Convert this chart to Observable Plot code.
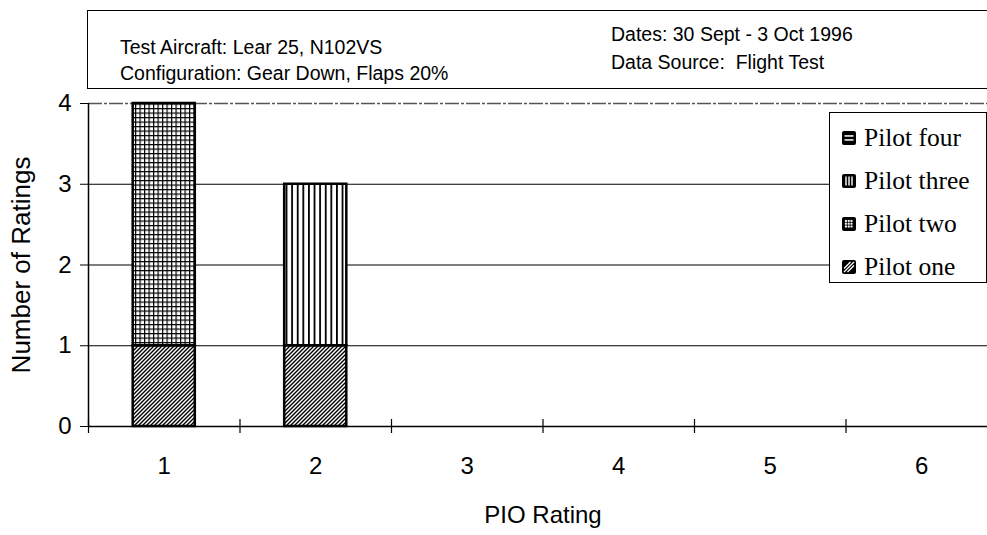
<!DOCTYPE html>
<html><head><meta charset="utf-8">
<script src="https://cdn.jsdelivr.net/npm/d3@7"></script>
<script src="https://cdn.jsdelivr.net/npm/@observablehq/plot@0.6"></script>
<style>
html,body{margin:0;padding:0;background:#fff;overflow:hidden;width:987px;height:535px;}
#wrap{position:relative;width:987px;height:535px;overflow:hidden;}
#chart{position:absolute;left:0;top:0;}
#chart svg{max-width:none !important;}
#header{position:absolute;left:87px;top:10px;width:930px;height:77px;border:1.5px solid #000;background:#fff;font-family:"Liberation Sans",Arial,sans-serif;font-size:19.5px;color:#000;}
#header div{position:absolute;white-space:pre;line-height:23px;}
#legend{position:absolute;left:829px;top:112px;width:156px;height:169px;border:1.5px solid #000;background:#fff;font-family:"Liberation Serif","Times New Roman",serif;font-size:25.5px;color:#000;}
.item{position:absolute;left:12px;display:flex;align-items:center;white-space:nowrap;height:30px;}
.item svg{margin-right:8px;}
</style>
</head><body>
<div id="wrap">
<div id="chart"></div>
<div id="header">
  <div style="left:32px;top:25px">Test Aircraft: Lear 25, N102VS</div>
  <div style="left:32px;top:51px">Configuration: Gear Down, Flaps 20%</div>
  <div style="left:523px;top:12px">Dates: 30 Sept - 3 Oct 1996</div>
  <div style="left:523px;top:40px">Data Source:  Flight Test</div>
</div>
<div id="legend"></div>
</div>
<script>
const ratings = [1, 2, 3, 4, 5, 6];
const pilots = ["Pilot one", "Pilot two", "Pilot three", "Pilot four"];
const pilotOne   = [1, 1, 0, 0, 0, 0];
const pilotTwo   = [3, 0, 0, 0, 0, 0];
const pilotThree = [0, 2, 0, 0, 0, 0];
const pilotFour  = [0, 0, 0, 0, 0, 0];
const yTicks = [0, 1, 2, 3, 4];
const patternIds = ["pOne", "pTwo", "pThree", "pFour"];

const seriesVals = [pilotOne, pilotTwo, pilotThree, pilotFour];
const rows = [];
ratings.forEach((r, i) => {
  let acc = 0;
  seriesVals.forEach((vals, s) => {
    const v = vals[i];
    if (v > 0) {
      rows.push({rating: r, pilot: pilots[s], y1: acc, y2: acc + v, fill: `url(#${patternIds[s]})`});
      acc += v;
    }
  });
});
const halfBar = 0.205;
const bounds = d3.range(ratings[0] - 0.5, ratings[ratings.length - 1] + 1, 1);

const plot = Plot.plot({
  width: 1000,
  height: 535,
  marginLeft: 88,
  marginRight: 3,
  marginTop: 103,
  marginBottom: 109,
  style: {fontFamily: "Liberation Sans, Arial, sans-serif", fontSize: "24px", color: "#000", background: "transparent", maxWidth: "none"},
  x: {type: "linear", domain: [0.5, 6.5]},
  y: {domain: [0, 4]},
  color: {type: "identity"},
  marks: [
    Plot.ruleY([1, 2, 3], {stroke: "#000", strokeWidth: 1.2}),
    Plot.ruleY([4], {stroke: "#555", strokeWidth: 1.5, strokeDasharray: "14,2,3,2"}),
    Plot.rect(rows, {x1: d => d.rating - halfBar, x2: d => d.rating + halfBar, y1: "y1", y2: "y2", fill: "fill", stroke: "#000", strokeWidth: 2.5}),
    Plot.ruleY([0], {stroke: "#000", strokeWidth: 1.5}),
    Plot.ruleX([0.5], {stroke: "#000", strokeWidth: 1.5}),
    Plot.ruleX(bounds, {x: d => d, y1: 0, y2: 0, insetTop: -7, insetBottom: -7, stroke: "#000", strokeWidth: 1.2}),
    Plot.axisY(yTicks, {tickSize: 8, tickPadding: 9, tickFormat: d3.format("d"), label: null}),
    Plot.axisX(ratings, {tickSize: 0, tickPadding: 30, tickFormat: d3.format("d"), label: null}),
    Plot.axisY({label: "Number of Ratings", labelAnchor: "center", labelArrow: "none", labelOffset: 77, ticks: [], tickSize: 0, fontSize: 26}),
    Plot.axisX({label: "PIO Rating", labelAnchor: "center", labelArrow: "none", labelOffset: 96, ticks: [], tickSize: 0})
  ]
});

const svg = d3.select(plot);
const defs = svg.insert("defs", ":first-child");
let p = defs.append("pattern").attr("id", "pOne").attr("patternUnits", "userSpaceOnUse").attr("width", 4).attr("height", 4);
p.append("rect").attr("width", 4).attr("height", 4).attr("fill", "#fff");
p.append("path").attr("d", "M-1,1 l2,-2 M0,4 l4,-4 M3,5 l2,-2").attr("stroke", "#000").attr("stroke-width", 1.4);
p = defs.append("pattern").attr("id", "pTwo").attr("patternUnits", "userSpaceOnUse").attr("width", 4.5).attr("height", 4.5);
p.append("rect").attr("width", 4.5).attr("height", 4.5).attr("fill", "#000");
p.append("rect").attr("x", 1.2).attr("y", 1.2).attr("width", 3.3).attr("height", 3.3).attr("fill", "#fff");
p = defs.append("pattern").attr("id", "pThree").attr("patternUnits", "userSpaceOnUse").attr("width", 5.6).attr("height", 4);
p.append("rect").attr("width", 5.6).attr("height", 4).attr("fill", "#fff");
p.append("rect").attr("x", 0).attr("width", 1.8).attr("height", 4).attr("fill", "#000");
p = defs.append("pattern").attr("id", "pFour").attr("patternUnits", "userSpaceOnUse").attr("width", 4).attr("height", 5);
p.append("rect").attr("width", 4).attr("height", 5).attr("fill", "#fff");
p.append("rect").attr("y", 0).attr("width", 4).attr("height", 2).attr("fill", "#000");
document.getElementById("chart").appendChild(plot);

const legend = d3.select("#legend");
const legendIcons = {
  "Pilot four": (g) => { g.append("rect").attr("width",14).attr("height",14).attr("rx",2).attr("fill","#000"); g.append("rect").attr("x",2.5).attr("y",4.2).attr("width",9).attr("height",1.5).attr("fill","#fff"); g.append("rect").attr("x",2.5).attr("y",8.2).attr("width",9).attr("height",1.5).attr("fill","#fff"); },
  "Pilot three": (g) => { g.append("rect").attr("width",14).attr("height",14).attr("rx",2).attr("fill","#000"); [3.3,6.3,9.3].forEach(x => g.append("rect").attr("x",x).attr("y",2.5).attr("width",1.4).attr("height",9).attr("fill","#fff")); },
  "Pilot two": (g) => { g.append("rect").attr("width",14).attr("height",14).attr("rx",2).attr("fill","#000"); [2.6,5.4,8.2].forEach(x => [2.6,5.4,8.2].forEach(y => g.append("rect").attr("x",x+0.3).attr("y",y+0.3).attr("width",2).attr("height",2).attr("fill","#fff"))); },
  "Pilot one": (g) => { g.append("rect").attr("width",14).attr("height",14).attr("rx",2).attr("fill","#000"); g.append("path").attr("d","M2,8.5 L8.5,2 M2,12 L12,2 M5.5,12 L12,5.5").attr("stroke","#fff").attr("stroke-width",1.3); }
};
pilots.slice().reverse().forEach((name, i) => {
  const item = legend.append("div").attr("class", "item").style("top", (10 + i * 43) + "px");
  const s = item.append("svg").attr("width", 14).attr("height", 14);
  legendIcons[name](s);
  item.append("span").text(name);
});
</script>
</body></html>
